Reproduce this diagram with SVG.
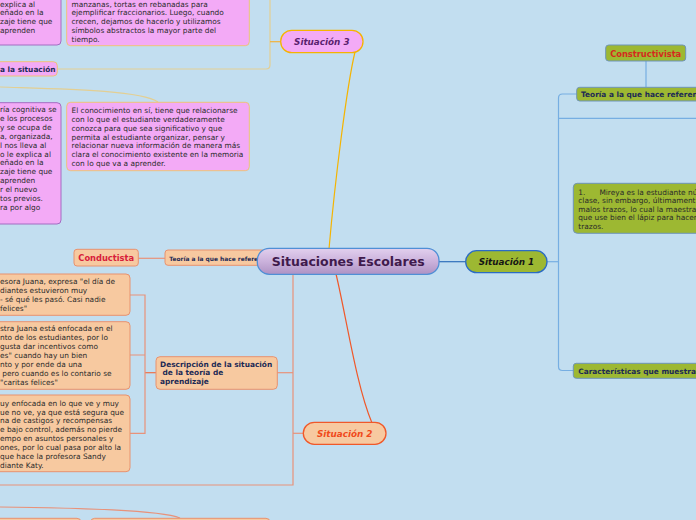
<svg xmlns="http://www.w3.org/2000/svg" width="696" height="520" viewBox="0 0 696 520">
<defs>
<linearGradient id="cg" x1="0" y1="0" x2="0" y2="1">
<stop offset="0" stop-color="#e2d0ee"/>
<stop offset="0.5" stop-color="#cbb2dc"/>
<stop offset="1" stop-color="#ae92c4"/>
</linearGradient>
<style>
.t{font-family:"DejaVu Sans",Verdana,sans-serif;font-size:7.4px;fill:#2a2a2a}
.b{font-family:"DejaVu Sans",Verdana,sans-serif;font-size:7.4px;font-weight:bold;fill:#1c2a55}
.sit{font-family:"DejaVu Sans",Verdana,sans-serif;font-size:8.8px;font-weight:bold;font-style:italic;text-anchor:middle}
.th{font-family:"DejaVu Sans",Verdana,sans-serif;font-size:8.3px;font-weight:bold;text-anchor:middle}
.pink{fill:#f3aaf6;stroke:#eec27a;stroke-width:1}
.pinkp{fill:#f3aaf6;stroke:#a36cc2;stroke-width:1}
.peach{fill:#f7c9a0;stroke:#e8926f;stroke-width:1}
.green{fill:#9db832;stroke:#6f94b8;stroke-width:1}
.c{fill:none;stroke-width:1.2}
.cy{stroke:#e3cf93}
.cs{stroke:#e8927a}
.cb{stroke:#76aee2}
</style>
</defs>
<rect width="696" height="520" fill="#c2def0"/>

<g id="connectors">
<path class="c cy" d="M57,69 H266 Q270,69 270,65 V0"/>
<path class="c" stroke="#f2b23a" d="M270,41.7 H281"/>
<path class="c cy" d="M0,87 C60,89 140,90 158,102"/>
<path class="c" stroke="#f5b400" stroke-width="1.5" d="M355,52 C347,85 335,180 329,249"/>
<path class="c" stroke="#f0582a" stroke-width="1.5" d="M336,274 C346,315 356,385 372,423"/>
<path class="c" stroke="#2f6fba" stroke-width="1.5" d="M439,261.7 H466"/>
<path class="c cb" d="M547,261.7 H558.5"/>
<path class="c cb" d="M577,94 H562.5 Q558.5,94 558.5,98 V366.5 Q558.5,370.5 562.5,370.5 H574"/>
<path class="c cb" d="M558.5,118.3 H696"/>
<path class="c cb" d="M646,61 V87"/>
<path class="c cs" d="M138,258.3 H165"/>
<path class="c cs" d="M258,258.3 H293 V485 H0"/>
<path class="c cs" d="M293,433.3 H303"/>
<path class="c cs" d="M277,372.7 H293"/>
<path class="c" stroke="#ee7048" d="M156,372.7 H145"/>
<path class="c cs" d="M130,295 H145 V433.3 H130 M130,355 H145"/>
<path class="c cs" d="M0,507 C80,508 160,510 180,518"/>
</g>

<g id="top-left-box">
<rect class="pinkp" x="-10" y="-10" width="71" height="55" rx="4"/>
<text class="t" x="0" y="6.5">explica al</text>
<text class="t" x="0" y="15.2">eñado en la</text>
<text class="t" x="0" y="24">zaje tiene que</text>
<text class="t" x="0" y="32.8">aprenden</text>
</g>

<g id="top-right-box">
<rect class="pink" x="66.7" y="-10" width="182.6" height="55.7" rx="4"/>
<text class="t" x="71.5" y="6.5">manzanas, tortas en rebanadas para</text>
<text class="t" x="71.5" y="15.2">ejemplificar fraccionarios. Luego, cuando</text>
<text class="t" x="71.5" y="24">crecen, dejamos de hacerlo y utilizamos</text>
<text class="t" x="71.5" y="32.8">símbolos abstractos la mayor parte del</text>
<text class="t" x="71.5" y="41.5">tiempo.</text>
</g>

<g id="descripcion-3">
<rect class="pink" x="-10" y="61.7" width="67.3" height="14.3" rx="4"/>
<text class="b" x="0" y="72">a la situación</text>
</g>

<g id="situacion-3">
<rect x="280.7" y="30.3" width="82.3" height="22.4" rx="11" fill="#f3aaf6" stroke="#f5b400" stroke-width="1.3"/>
<text class="sit" x="321.8" y="45" fill="#5a1f6e">Situación 3</text>
</g>

<g id="cognitiva-box">
<rect class="pinkp" x="-10" y="102.7" width="71" height="121.3" rx="4"/>
<text class="t" x="0" y="112">ría cognitiva se</text>
<text class="t" x="0" y="120.9">e los procesos</text>
<text class="t" x="0" y="129.8">y se ocupa de</text>
<text class="t" x="0" y="138.7">a, organizada,</text>
<text class="t" x="0" y="147.6">l nos lleva al</text>
<text class="t" x="0" y="156.5">o le explica al</text>
<text class="t" x="0" y="165.4">eñado en la</text>
<text class="t" x="0" y="174.3">zaje tiene que</text>
<text class="t" x="0" y="183.2">aprenden</text>
<text class="t" x="0" y="192.1">r el nuevo</text>
<text class="t" x="0" y="201">tos previos.</text>
<text class="t" x="0" y="209.9">ra por algo</text>
</g>

<g id="conocimiento-box">
<rect class="pink" x="66.7" y="102.3" width="182.6" height="68.4" rx="4"/>
<text class="t" x="71.5" y="113.2">El conocimiento en sí, tiene que relacionarse</text>
<text class="t" x="71.5" y="122">con lo que el estudiante verdaderamente</text>
<text class="t" x="71.5" y="130.8">conozca para que sea significativo y que</text>
<text class="t" x="71.5" y="139.6">permita al estudiante organizar, pensar y</text>
<text class="t" x="71.5" y="148.4">relacionar nueva información de manera más</text>
<text class="t" x="71.5" y="157.2">clara el conocimiento existente en la memoria</text>
<text class="t" x="71.5" y="166">con lo que va a aprender.</text>
</g>

<g id="conductista">
<rect class="peach" x="74" y="249.3" width="64.3" height="16.7" rx="3"/>
<text class="th" x="106.2" y="261.3" fill="#d8203a">Conductista</text>
</g>

<g id="teoria-2">
<rect class="peach" x="165" y="250" width="100" height="15.3" rx="3"/>
<text class="b" x="169.3" y="260.5" style="font-size:5.9px">Teoría a la que hace refere</text>
</g>

<g id="central">
<rect x="257.3" y="248.3" width="181.7" height="26" rx="12" fill="url(#cg)" stroke="#4f8fd6" stroke-width="1.3"/>
<text x="348.2" y="266" text-anchor="middle" font-family="DejaVu Sans,Verdana,sans-serif" font-size="12.5" font-weight="bold" fill="#3f1a4c">Situaciones Escolares</text>
</g>

<g id="situacion-1">
<rect x="465.7" y="250.7" width="81.3" height="22" rx="11" fill="#9db832" stroke="#2b6cc4" stroke-width="1.3"/>
<text class="sit" x="506.4" y="265" fill="#151515">Situación 1</text>
</g>

<g id="constructivista">
<rect class="green" x="605.7" y="45" width="80" height="16" rx="3"/>
<text class="th" x="645.7" y="56.5" fill="#d42a1e">Constructivista</text>
</g>

<g id="teoria-1">
<rect class="green" x="576.7" y="87.3" width="130" height="13.7" rx="3"/>
<text class="b" x="581" y="96.5" fill="#1c2a45">Teoría a la que hace referen</text>
</g>

<g id="mireya-box">
<rect class="green" x="573.3" y="183.3" width="140" height="50" rx="4"/>
<text class="t" x="578.3" y="194.5" style="white-space:pre">1.      Mireya es la estudiante nú</text>
<text class="t" x="578.3" y="203">clase, sin embargo, últimament</text>
<text class="t" x="578.3" y="211.5">malos trazos, lo cual la maestra</text>
<text class="t" x="578.3" y="220">que use bien el lápiz para hacer</text>
<text class="t" x="578.3" y="228.5">trazos.</text>
</g>

<g id="caracteristicas-1">
<rect class="green" x="573.3" y="363.3" width="140" height="15" rx="3"/>
<text class="b" x="578.3" y="374.2" fill="#1c2a45">Características que muestra</text>
</g>

<g id="juana-1">
<rect class="peach" x="-10" y="274" width="140" height="41.3" rx="4"/>
<text class="t" x="0" y="284.2">esora Juana, expresa "el día de</text>
<text class="t" x="0" y="293.2">diantes estuvieron muy</text>
<text class="t" x="0" y="302.2">- sé qué les pasó. Casi nadie</text>
<text class="t" x="0" y="311.2">felices"</text>
</g>

<g id="juana-2">
<rect class="peach" x="-10" y="321.7" width="140" height="67.6" rx="4"/>
<text class="t" x="0" y="330.8">stra Juana está enfocada en el</text>
<text class="t" x="0" y="339.8">nto de los estudiantes, por lo</text>
<text class="t" x="0" y="348.6">gusta dar incentivos como</text>
<text class="t" x="0" y="357.5">es" cuando hay un bien</text>
<text class="t" x="0" y="366.5">nto y por ende da una</text>
<text class="t" x="0" y="375.8" style="white-space:pre"> pero cuando es lo contario se</text>
<text class="t" x="0" y="384.8">"caritas felices"</text>
</g>

<g id="juana-3">
<rect class="peach" x="-10" y="395" width="140" height="76.7" rx="4"/>
<text class="t" x="0" y="405.8">uy enfocada en lo que ve y muy</text>
<text class="t" x="0" y="414.6">ue no ve, ya que está segura que</text>
<text class="t" x="0" y="423.3">na de castigos y recompensas</text>
<text class="t" x="0" y="432">e bajo control, además no pierde</text>
<text class="t" x="0" y="440.9">empo en asuntos personales y</text>
<text class="t" x="0" y="449.8">ones, por lo cual pasa por alto la</text>
<text class="t" x="0" y="458.8">que hace la profesora Sandy</text>
<text class="t" x="0" y="467.8">diante Katy.</text>
</g>

<g id="descripcion-2">
<rect class="peach" x="156" y="356.7" width="121.3" height="32.6" rx="4"/>
<text class="b" x="160" y="366.5">Descripción de la situación</text>
<text class="b" x="160" y="375.3" style="white-space:pre"> de la teoría de</text>
<text class="b" x="160" y="384">aprendizaje</text>
</g>

<g id="situacion-2">
<rect x="303.3" y="422.3" width="82.7" height="22" rx="11" fill="#f7c9a0" stroke="#f0582a" stroke-width="1.3"/>
<text class="sit" x="344.7" y="436.5" fill="#f04a1c">Situación 2</text>
</g>

<g id="bottom-boxes">
<rect class="peach" x="-10" y="518.3" width="91" height="12" rx="4"/>
<rect class="peach" x="90.7" y="518.3" width="179.3" height="12" rx="4"/>
</g>
</svg>
